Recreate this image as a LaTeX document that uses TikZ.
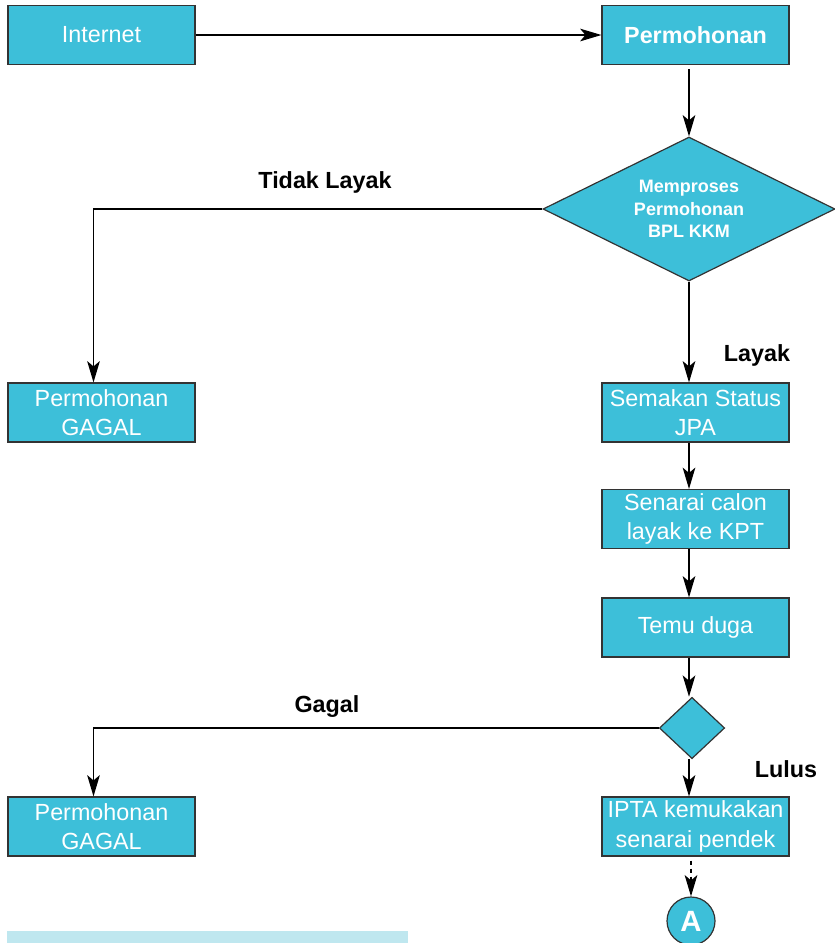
\documentclass[tikz,border=0pt]{standalone}
\usepackage{fontspec}
\setmainfont{Liberation Sans}
\usetikzlibrary{shapes.geometric,arrows.meta}
\definecolor{boxblue}{HTML}{3DBFD9}
\definecolor{barblue}{HTML}{BFE7EF}
\definecolor{edgegray}{HTML}{333333}
\begin{document}
\begin{tikzpicture}[x=0.75pt,y=-0.75pt,
  >={Stealth[length=16pt,width=9.5pt,inset=4pt]},
  box/.style={draw=edgegray,line width=1.1pt,fill=boxblue,minimum width=140pt,
    minimum height=44pt,inner sep=0pt,text=white,align=center,
    font=\fontsize{17.5}{22}\selectfont},
  decide/.style={diamond,aspect=2,draw=edgegray,line width=0.9pt,fill=boxblue,inner sep=0pt,
    text=white,align=center,font=\fontsize{13.5}{17}\selectfont\bfseries},
  lbl/.style={font=\fontsize{17.5}{21}\selectfont\bfseries},
  flow/.style={->,line width=0.9pt}]
\useasboundingbox (0,0) rectangle (835,943);
\fill[barblue] (7,931) rectangle (408,943);
\node[box] (internet) at (101.5,35) {Internet};
\node[box,font=\fontsize{17.5}{22}\selectfont\bfseries] (mohon) at (695.5,35) {Permohonan};
\node[decide,minimum width=219pt,minimum height=108pt] (proses) at (689,209) {Memproses\\Permohonan\\BPL KKM};
\node[box] (gagal1) at (101.5,412.5) {Permohonan\\GAGAL};
\node[box] (semak) at (695.5,412.5) {Semakan Status\\JPA};
\node[box] (senarai) at (695.5,519) {Senarai calon\\layak ke KPT};
\node[box] (temu) at (695.5,627.5) {Temu duga};
\node[diamond,draw=edgegray,line width=0.9pt,fill=boxblue,inner sep=0pt,
  minimum width=49pt,minimum height=46pt] (lulus) at (692,728) {};
\node[box] (gagal2) at (101.5,826.5) {Permohonan\\GAGAL};
\node[box] (ipta) at (695.5,826.5) {IPTA kemukakan\\senarai pendek};
\node[circle,draw=edgegray,line width=0.9pt,fill=boxblue,minimum size=36pt,inner sep=0pt,
  text=white,font=\fontsize{22}{24}\selectfont\bfseries] (conA) at (691,921) {A};
\draw[flow] ([yshift=-3pt]mohon.south -| proses.north) -- (proses.north);
\draw[flow] (internet) -- (mohon);
\draw[flow] (proses.west) -| ([xshift=-6pt]gagal1.north);
\draw[flow] (proses.south) -- (proses.south |- semak.north);
\draw[flow] (semak.south -| proses.south) -- (proses.south |- senarai.north);
\draw[flow] (senarai.south -| proses.south) -- (proses.south |- temu.north);
\draw[flow] (temu.south -| proses.south) -- (lulus.north -| proses.south);
\draw[flow] (lulus.west) -| ([xshift=-6pt]gagal2.north);
\draw[flow] (lulus.south -| proses.south) -- (proses.south |- ipta.north);
\draw[flow,dashed] ([yshift=-3pt]ipta.south -| conA.north) -- (conA.north);
\node[lbl] (tidak) at (325,182) {Tidak Layak};
\node[lbl] (layak) at (757,355) {Layak};
\node[lbl] (gagal) at (327,707) {Gagal};
\node[lbl] (lulusl) at (786,769) {Lulus};
\end{tikzpicture}
\end{document}
